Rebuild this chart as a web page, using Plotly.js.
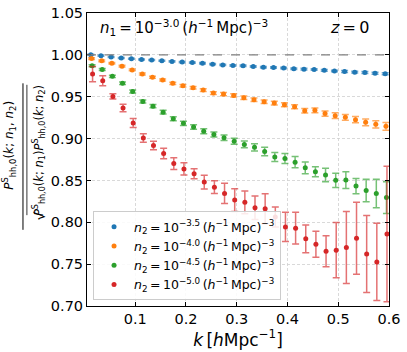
<!DOCTYPE html>
<html>
<head>
<meta charset="utf-8">
<script src="https://cdn.plot.ly/plotly-3.0.1.min.js"></script>
<style>
  body { margin: 0; background: #fff; }
  #plot { width: 407px; height: 352px; }
</style>
</head>
<body>
<div id="plot"></div>
<script>
// k bin centres (h/Mpc)
const kBins = [0.0125, 0.0325, 0.0525, 0.0725, 0.0925, 0.1125, 0.1325, 0.1525, 0.1725, 0.1925,
  0.2125, 0.2325, 0.2525, 0.2725, 0.2925, 0.3125, 0.3325, 0.3525, 0.3725, 0.3925,
  0.4125, 0.4325, 0.4525, 0.4725, 0.4925, 0.5125, 0.5325, 0.5525, 0.5725, 0.5925]

// ratio for each n2
const r35 = [1.0000, 0.9989, 0.9974, 0.9962, 0.9953, 0.9946, 0.9939, 0.9930, 0.9922, 0.9914,
  0.9908, 0.9900, 0.9889, 0.9880, 0.9873, 0.9870, 0.9861, 0.9853, 0.9848, 0.9842,
  0.9833, 0.9829, 0.9825, 0.9815, 0.9807, 0.9801, 0.9793, 0.9789, 0.9781, 0.9775]
const e35 = [0.0006, 0.0006, 0.0006, 0.0006, 0.0006, 0.0006, 0.0007, 0.0007, 0.0007, 0.0007,
  0.0007, 0.0008, 0.0008, 0.0008, 0.0008, 0.0008, 0.0009, 0.0009, 0.0009, 0.0009,
  0.0009, 0.0010, 0.0010, 0.0010, 0.0010, 0.0011, 0.0011, 0.0011, 0.0012, 0.0012]

const r40 = [0.9956, 0.9929, 0.9900, 0.9865, 0.9820, 0.9770, 0.9733, 0.9700, 0.9660, 0.9630,
  0.9607, 0.9579, 0.9543, 0.9531, 0.9515, 0.9488, 0.9464, 0.9440, 0.9424, 0.9405,
  0.9380, 0.9333, 0.9337, 0.9298, 0.9274, 0.9254, 0.9226, 0.9194, 0.9170, 0.9146]
const e40 = [0.0010, 0.0010, 0.0010, 0.0010, 0.0011, 0.0012, 0.0012, 0.0013, 0.0014, 0.0015,
  0.0015, 0.0016, 0.0017, 0.0018, 0.0019, 0.0020, 0.0021, 0.0022, 0.0022, 0.0024,
  0.0025, 0.0027, 0.0028, 0.0030, 0.0033, 0.0035, 0.0037, 0.0040, 0.0043, 0.0047]

const r45 = [0.9869, 0.9825, 0.9743, 0.9662, 0.9562, 0.9444, 0.9387, 0.9315, 0.9238, 0.9182,
  0.9138, 0.9087, 0.9048, 0.9010, 0.8968, 0.8930, 0.8895, 0.8845, 0.8780, 0.8762,
  0.8718, 0.8650, 0.8603, 0.8565, 0.8502, 0.8505, 0.8432, 0.8380, 0.8345, 0.8295]
const e45 = [0.0012, 0.0012, 0.0014, 0.0015, 0.0017, 0.0018, 0.0020, 0.0022, 0.0024, 0.0026,
  0.0028, 0.0030, 0.0030, 0.0032, 0.0035, 0.0040, 0.0042, 0.0050, 0.0055, 0.0060,
  0.0067, 0.0070, 0.0060, 0.0080, 0.0085, 0.0100, 0.0090, 0.0135, 0.0170, 0.0190]

const r50 = [0.9770, 0.9690, 0.9504, 0.9365, 0.9186, 0.9007, 0.8917, 0.8821, 0.8702, 0.8638,
  0.8579, 0.8480, 0.8420, 0.8345, 0.8265, 0.8238, 0.8174, 0.8162, 0.8063, 0.7944,
  0.7930, 0.7802, 0.7738, 0.7655, 0.7667, 0.7700, 0.7810, 0.7620, 0.7527, 0.7860]
const e50 = [0.0090, 0.0060, 0.0030, 0.0045, 0.0055, 0.0050, 0.0052, 0.0063, 0.0070, 0.0073,
  0.0060, 0.0083, 0.0075, 0.0120, 0.0135, 0.0135, 0.0140, 0.0180, 0.0120, 0.0175,
  0.0190, 0.0167, 0.0155, 0.0185, 0.0330, 0.0430, 0.0430, 0.0460, 0.0460, 0.0810]

const names = [
  "<i>n</i><sub>2</sub>\u2009=\u200910<sup>−3.5</sup>\u2009(<i>h</i><sup>−1</sup>\u2009Mpc)<sup>−3</sup>",
  "<i>n</i><sub>2</sub>\u2009=\u200910<sup>−4.0</sup>\u2009(<i>h</i><sup>−1</sup>\u2009Mpc)<sup>−3</sup>",
  "<i>n</i><sub>2</sub>\u2009=\u200910<sup>−4.5</sup>\u2009(<i>h</i><sup>−1</sup>\u2009Mpc)<sup>−3</sup>",
  "<i>n</i><sub>2</sub>\u2009=\u200910<sup>−5.0</sup>\u2009(<i>h</i><sup>−1</sup>\u2009Mpc)<sup>−3</sup>"
]
const colors = ["#1f77b4", "#ff7f0e", "#2ca02c", "#d62728"]
const errColors = ["rgba(31,119,180,0.65)", "rgba(255,127,14,0.65)", "rgba(44,160,44,0.65)", "rgba(214,39,40,0.65)"]
const ratios = [r35, r40, r45, r50]
const errs = [e35, e40, e45, e50]
// small horizontal dodge so the bars do not sit on top of each other
const dodge = [0, 0.0015, 0.0025, 0.0035]

let traces = []
for (let i = 0; i < ratios.length; i++) {
  traces.push({
    x: kBins.map(k => k + dodge[i]),
    y: ratios[i],
    type: "scatter",
    mode: "markers",
    name: names[i],
    marker: {color: colors[i], size: 5},
    error_y: {type: "data", array: errs[i], visible: true,
      color: errColors[i], thickness: 1.5, width: 3.5}
  })
}

const font = "DejaVu Sans, sans-serif"

const axisBase = {
  showline: true, linecolor: "black", linewidth: 1, mirror: "allticks",
  ticks: "inside", ticklen: 4, tickwidth: 1, tickcolor: "black",
  showgrid: true, gridcolor: "#d0d0d0", gridwidth: 0.8, griddash: "3px,2px",
  zeroline: false, tickfont: {family: font, size: 14.5, color: "black"}
}

// y label drawn by hand: numerator, fraction bar, radical, denominator
const numer = "<i>P</i><sup>S</sup><sub>hh,0</sub>(<i>k</i>; <i>n</i><sub>1</sub>, <i>n</i><sub>2</sub>)"
const denom = "<i>P</i><sup>S</sup><sub>hh,0</sub>(<i>k</i>; <i>n</i><sub>1</sub>)<i>P</i><sup>S</sup><sub>hh,0</sub>(<i>k</i>; <i>n</i><sub>2</sub>)"

const layout = {
  width: 407, height: 352,
  margin: {l: 87, r: 18, t: 13, b: 46},
  paper_bgcolor: "white", plot_bgcolor: "white",
  font: {family: font, color: "black"},
  showlegend: true,
  legend: {
    x: 0.02, y: 0.02, xanchor: "left", yanchor: "bottom",
    bgcolor: "rgba(255,255,255,0.85)", bordercolor: "#cccccc", borderwidth: 1,
    font: {family: font, size: 12.5}, tracegroupgap: 0, itemwidth: 30
  },
  xaxis: Object.assign({}, axisBase, {
    range: [0.005, 0.6], tick0: 0, dtick: 0.1, tickformat: ".1f",
    title: {text: "<i>k</i>\u2009[<i>h</i>Mpc<sup>−1</sup>]", font: {family: font, size: 17}, standoff: 3}
  }),
  yaxis: Object.assign({}, axisBase, {
    range: [0.70, 1.05], tick0: 0.7, dtick: 0.05, tickformat: ".2f"
  }),
  shapes: [
    {type: "line", xref: "paper", yref: "y", x0: 0, x1: 1, y0: 1, y1: 1,
      line: {color: "#808080", width: 1.2, dash: "dash"}},
    // fraction bar
    {type: "line", xref: "paper", yref: "paper", x0: -0.212, x1: -0.212, y0: 0.26, y1: 0.76,
      line: {color: "black", width: 1}},
    // radical vinculum
    {type: "line", xref: "paper", yref: "paper", x0: -0.199, x1: -0.199, y0: 0.31, y1: 0.755,
      line: {color: "black", width: 0.8}}
  ],
  annotations: [
    {xref: "paper", yref: "paper", x: 0.035, y: 0.952, xanchor: "left", yanchor: "middle",
      showarrow: false, font: {family: font, size: 15},
      text: "<i>n</i><sub>1</sub>\u2009=\u200910<sup>−3.0</sup>\u2009(<i>h</i><sup>−1</sup>\u2009Mpc)<sup>−3</sup>"},
    {xref: "paper", yref: "paper", x: 0.94, y: 0.952, xanchor: "right", yanchor: "middle",
      showarrow: false, font: {family: font, size: 16}, text: "<i>z</i>\u2009=\u20090"},
    {xref: "paper", yref: "paper", x: -0.222, y: 0.55, xanchor: "right", textangle: -90,
      showarrow: false, font: {family: font, size: 12}, text: numer},
    {xref: "paper", yref: "paper", x: -0.194, y: 0.53, xanchor: "left", textangle: -90,
      showarrow: false, font: {family: font, size: 11.5}, text: denom},
    {xref: "paper", yref: "paper", x: -0.19, y: 0.285, textangle: -90,
      showarrow: false, font: {family: font, size: 14}, text: "√"}
  ]
}

Plotly.newPlot("plot", traces, layout, {staticPlot: true, displayModeBar: false})
</script>
</body>
</html>
